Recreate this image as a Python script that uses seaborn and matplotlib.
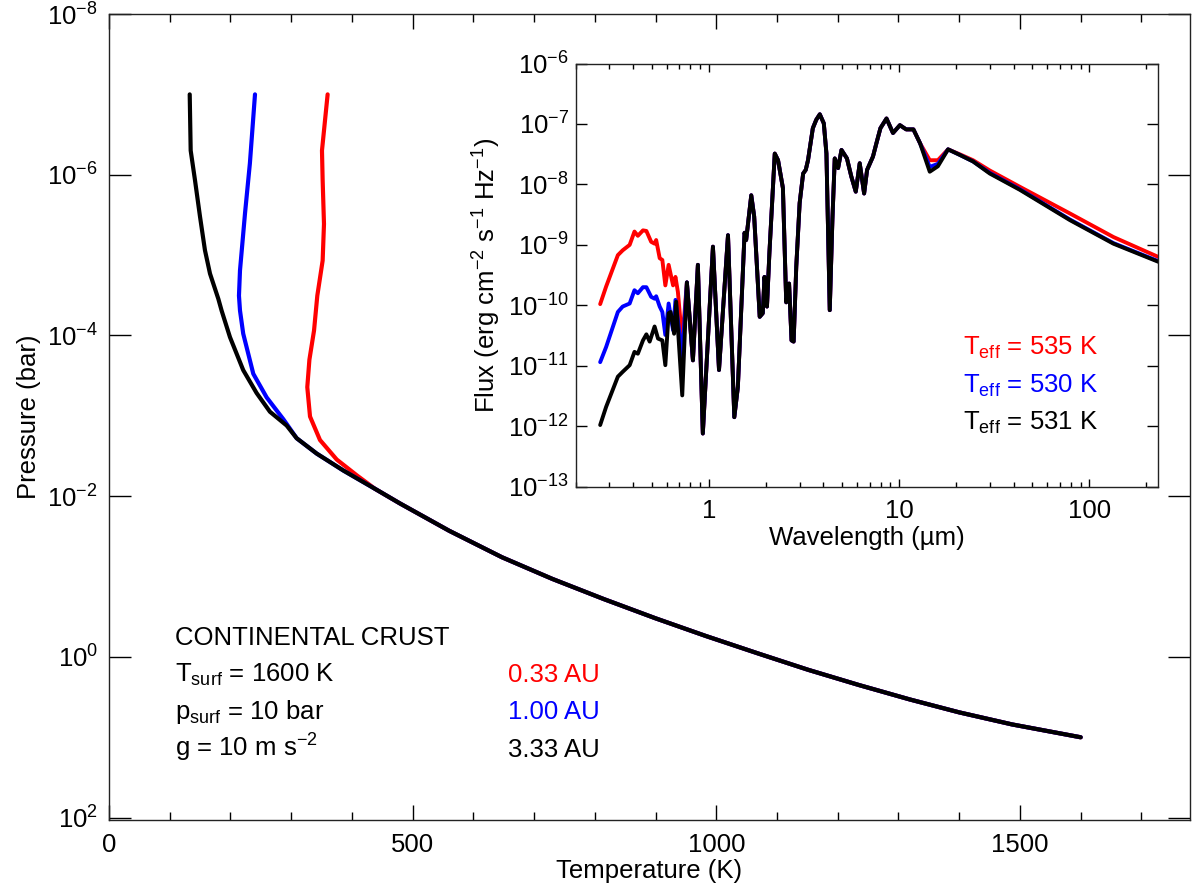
import numpy as np
import pandas as pd
import matplotlib
matplotlib.use("Agg")
import matplotlib.pyplot as plt
import seaborn as sns
from matplotlib.ticker import (FixedLocator, MultipleLocator, LogLocator,
                               NullLocator, NullFormatter, LogFormatterSciNotation,
                               FuncFormatter)

# ---------------- main panel: P-T profiles ----------------
# upper atmosphere (individual), deep part shared by all three
temp_red_upper = [360, 350.7, 351.8, 354, 351.8, 343, 337.6, 330, 326.5, 331, 347.4, 375, 408]
pres_red_upper = [1e-7, 5e-7, 1.17e-6, 4.1e-6, 1.17e-5, 3.2e-5, 8.7e-5, 2.0e-4, 4.4e-4,
                  1.02e-3, 2.0e-3, 3.5e-3, 5.5e-3]
temp_blue_upper = [240.4, 232, 224, 215.7, 214, 215.7, 221, 237.6, 259.6, 287, 309]
pres_blue_upper = [1e-7, 7.2e-7, 3.0e-6, 1.55e-5, 3.2e-5, 4.9e-5, 9.5e-5, 3.0e-4, 5.9e-4,
                   1.1e-3, 1.9e-3]
temp_black_upper = [132.9, 134.5, 141.6, 149.8, 158, 166.3, 180, 185.4, 199.2, 221, 243,
                    265, 292.5, 309]
pres_black_upper = [1e-7, 5e-7, 1.17e-6, 3.3e-6, 8.7e-6, 1.7e-5, 3.5e-5, 4.9e-5, 1.05e-4,
                    2.7e-4, 5.2e-4, 8.9e-4, 1.32e-3, 1.9e-3]
temp_deep = [342, 386, 438, 479, 560, 647, 730, 815, 900, 983, 1070, 1151, 1235, 1319,
             1400, 1487, 1600]
pres_deep = [2.95e-3, 4.8e-3, 8.1e-3, 1.23e-2, 2.69e-2, 5.75e-2, 0.107, 0.191, 0.331, 0.550,
             0.912, 1.445, 2.24, 3.39, 4.90, 6.92, 10.0]

# ---------------- inset: emission spectra (log10 of flux) ----------------
wl_red_short = [0.268, 0.288, 0.332, 0.352, 0.383, 0.406, 0.423, 0.450, 0.469, 0.497, 0.518,
                0.528, 0.551, 0.569, 0.590, 0.614, 0.648, 0.667, 0.687, 0.724]
lf_red_short = [-9.98, -9.69, -9.17, -9.09, -9.00, -8.78, -8.85, -8.76, -8.77, -8.95, -8.98,
                -8.92, -9.22, -9.25, -9.67, -9.33, -9.67, -9.53, -9.78, -10.60]
wl_blue_short = [0.268, 0.288, 0.332, 0.352, 0.383, 0.406, 0.423, 0.450, 0.469, 0.497, 0.518,
                 0.528, 0.551, 0.569, 0.590, 0.614, 0.648, 0.667, 0.724]
lf_blue_short = [-10.94, -10.69, -10.11, -10.02, -9.97, -9.75, -9.80, -9.70, -9.70, -9.86,
                 -9.89, -9.85, -10.02, -10.11, -10.49, -9.97, -10.41, -9.91, -10.85]
wl_black_short = [0.268, 0.288, 0.332, 0.352, 0.383, 0.406, 0.423, 0.450, 0.469, 0.488, 0.518,
                  0.540, 0.569, 0.590, 0.614, 0.629, 0.656, 0.673, 0.724]
lf_black_short = [-11.98, -11.68, -11.18, -11.10, -10.99, -10.77, -10.80, -10.58, -10.48,
                  -10.60, -10.35, -10.55, -10.58, -10.99, -10.13, -10.11, -10.47, -9.94, -11.49]
wl_mid = [0.766, 0.824, 0.875, 0.929, 1.05, 1.13, 1.26, 1.36, 1.42, 1.54, 1.57, 1.67, 1.73,
          1.85, 1.92, 1.96, 2.02, 2.08, 2.22, 2.31, 2.45, 2.55, 2.64, 2.72, 2.79, 2.88, 3.00,
          3.13, 3.23, 3.32, 3.52, 3.67, 3.83, 4.02, 4.15, 4.32, 4.46, 4.59, 4.78, 4.98, 5.32,
          5.61, 5.92, 6.21, 6.55, 6.79, 7.29, 7.60, 7.98, 8.59, 9.29, 10.1, 10.9, 11.9, 12.9]
lf_mid = [-9.62, -10.91, -9.33, -12.12, -9.03, -11.07, -8.84, -11.85, -11.35, -8.80, -8.92,
          -8.18, -8.53, -10.19, -10.13, -9.53, -10.02, -9.14, -7.49, -7.60, -8.06, -9.95,
          -9.64, -10.58, -10.60, -9.36, -8.31, -7.82, -7.76, -7.60, -7.07, -6.93, -6.84,
          -6.99, -7.49, -10.08, -8.59, -7.57, -7.73, -7.43, -7.57, -7.87, -8.12, -7.65,
          -8.15, -7.76, -7.54, -7.32, -7.07, -6.91, -7.15, -7.02, -7.09, -7.09, -7.32]
wl_tail = [14.5, 16.0, 18.1, 20.8, 24.5, 30.0, 43.2, 79.1, 134, 231]
lf_red_tail = [-7.60, -7.60, -7.42, -7.50, -7.60, -7.77, -8.04, -8.48, -8.87, -9.20]
lf_blue_tail = [-7.71, -7.66, -7.42, -7.51, -7.62, -7.81, -8.08, -8.58, -8.97, -9.27]
lf_black_tail = [-7.79, -7.70, -7.42, -7.51, -7.62, -7.82, -8.09, -8.59, -8.98, -9.28]

series_labels = ["0.33 AU", "1.00 AU", "3.33 AU"]
teff_labels = ["535 K", "530 K", "531 K"]
colors = ["#ff0000", "#0000ff", "#000000"]

# ---------------- style ----------------
sns.set_style("ticks")
plt.rcParams["font.family"] = ["Liberation Sans", "DejaVu Sans"]
plt.rcParams["mathtext.fontset"] = "custom"
plt.rcParams["mathtext.rm"] = "Liberation Sans"
plt.rcParams["mathtext.it"] = "Liberation Sans:italic"
plt.rcParams["mathtext.bf"] = "Liberation Sans:bold"
plt.rcParams["axes.unicode_minus"] = True
for key in ["text.color", "axes.labelcolor", "xtick.color", "ytick.color",
            "axes.edgecolor"]:
    plt.rcParams[key] = "black"

fig = plt.figure(figsize=(11.99, 8.92), dpi=100)
W, H = 1199, 892
ax = fig.add_axes([109 / W, 1 - 820 / H, (1190 - 109) / W, (820 - 14) / H])

profiles = [
    (temp_red_upper + temp_deep[2:], pres_red_upper + pres_deep[2:]),
    (temp_blue_upper + temp_deep, pres_blue_upper + pres_deep),
    (temp_black_upper + temp_deep, pres_black_upper + pres_deep),
]
for (t, p), c in zip(profiles, colors):
    df = pd.DataFrame({"T": t, "P": p})
    sns.lineplot(data=df, x="T", y="P", sort=False, estimator=None, color=c,
                 linewidth=3.0, ax=ax, legend=False)

ax.set_yscale("log")
ax.set_xlim(0, 1780)
ax.set_ylim(107, 1e-8)
ax.xaxis.set_major_locator(MultipleLocator(500))
ax.xaxis.set_minor_locator(MultipleLocator(100))
ax.yaxis.set_major_locator(FixedLocator([1e-8, 1e-6, 1e-4, 1e-2, 1, 1e2]))
ax.yaxis.set_major_formatter(LogFormatterSciNotation())
ax.yaxis.set_minor_locator(NullLocator())
ax.tick_params(axis="x", which="major", direction="in", length=10.8, width=1,
               top=True, bottom=True, labelsize=18.5, pad=9)
ax.tick_params(axis="x", which="minor", direction="in", length=5.8, width=1,
               top=True, bottom=True)
ax.tick_params(axis="y", which="major", direction="in", length=15.8, width=1,
               left=True, right=True, labelsize=18.5, pad=8)
for s in ax.spines.values():
    s.set_linewidth(1.0)
    s.set_color("#222222")
ax.set_xlabel("Temperature (K)", fontsize=18.5, labelpad=2)
ax.set_ylabel("Pressure (bar)", fontsize=18.5, labelpad=4)

# annotation block
fs = 18.5
ax.text(0.061, 0.217, "CONTINENTAL CRUST", transform=ax.transAxes, fontsize=fs, va="baseline")
ax.text(0.061, 0.1716, r"T$_{\rm surf}$ = 1600 K", transform=ax.transAxes, fontsize=fs, va="baseline")
ax.text(0.061, 0.1253, r"p$_{\rm surf}$ = 10 bar", transform=ax.transAxes, fontsize=fs, va="baseline")
ax.text(0.061, 0.0786, r"g = 10 m s$^{-2}$", transform=ax.transAxes, fontsize=fs, va="baseline")
for lab, c, y in zip(series_labels, colors, [0.1716, 0.1253, 0.0786]):
    ax.text(0.369, y, lab, transform=ax.transAxes, fontsize=fs, va="baseline", color=c)

# ---------------- inset ----------------
axi = fig.add_axes([576 / W, 1 - 486.7 / H, (1158 - 576) / W, (486.7 - 63.5) / H])
axi.set_facecolor("white")
spectra = [
    (wl_red_short + wl_mid + wl_tail, lf_red_short + lf_mid + lf_red_tail),
    (wl_blue_short + wl_mid + wl_tail, lf_blue_short + lf_mid + lf_blue_tail),
    (wl_black_short + wl_mid + wl_tail, lf_black_short + lf_mid + lf_black_tail),
]
for (wl, lf), c in zip(spectra, colors):
    df = pd.DataFrame({"wl": wl, "flux": 10.0 ** np.asarray(lf)})
    sns.lineplot(data=df, x="wl", y="flux", sort=False, estimator=None, color=c,
                 linewidth=2.8, ax=axi, legend=False)

axi.set_xscale("log")
axi.set_yscale("log")
axi.set_xlim(0.2, 230)
axi.set_ylim(1e-13, 1e-6)
axi.xaxis.set_major_locator(FixedLocator([1, 10, 100]))
axi.xaxis.set_major_formatter(FuncFormatter(lambda v, p: f"{v:g}"))
axi.xaxis.set_minor_locator(LogLocator(base=10, subs=np.arange(2, 10)))
axi.xaxis.set_minor_formatter(NullFormatter())
axi.yaxis.set_major_locator(FixedLocator([10.0 ** k for k in range(-13, -5)]))
axi.yaxis.set_major_formatter(LogFormatterSciNotation())
axi.yaxis.set_minor_locator(NullLocator())
axi.tick_params(axis="x", which="major", direction="in", length=6, width=1,
                top=True, bottom=True, labelsize=18.5, pad=9)
axi.tick_params(axis="x", which="minor", direction="in", length=3.6, width=1,
                top=True, bottom=True)
axi.tick_params(axis="y", which="major", direction="in", length=8, width=1,
                left=True, right=True, labelsize=18.5, pad=5)
for s in axi.spines.values():
    s.set_linewidth(1.0)
    s.set_color("#222222")
axi.set_xlabel("Wavelength (µm)", fontsize=18.5, labelpad=2)
axi.set_ylabel(r"Flux (erg cm$^{-2}$ s$^{-1}$ Hz$^{-1}$)", fontsize=18.5, labelpad=4)

for lab, c, y in zip(teff_labels, colors, [0.311, 0.222, 0.134]):
    axi.text(0.665, y, r"T$_{\rm eff}$ = " + lab, transform=axi.transAxes, fontsize=fs,
             va="baseline", color=c)

fig.savefig("out.png", dpi=100)
